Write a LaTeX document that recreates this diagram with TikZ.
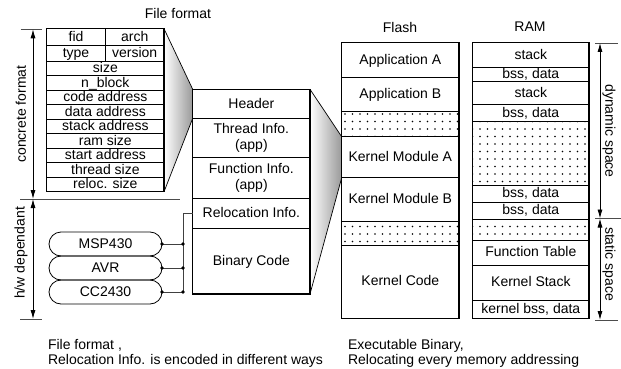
\documentclass[tikz,border=0pt]{standalone}
\usepackage{fontspec}
\setmainfont{Liberation Sans}
\usetikzlibrary{arrows.meta,%
                patterns.meta,%
                positioning}

\begin{document}
\begin{tikzpicture}
  [x=1pt,y=-1pt,
   every node/.style={font=\fontsize{14}{16.5}\selectfont,inner sep=0pt,outer sep=0pt},
   box/.style={draw,line width=.7pt,align=center},
   cell/.style={box,text height=8.5pt,text depth=0pt},
   half/.style={cell,minimum width=58.65,minimum height=16.3},
   tab/.style={cell,minimum width=117.3,minimum height=14.5},
   ramcell/.style={cell,minimum width=116.3},
   gapcell/.style={pattern={Dots[distance=7.5pt,radius=.85pt]},pattern color=black},
   pill/.style={draw,line width=.8pt,rounded corners=12,minimum width=113,minimum height=24,text height=8.5pt,text depth=0pt},
   dimarrow/.style={{Latex[length=9pt,width=5pt]}-{Latex[length=9pt,width=5pt]},line width=.8pt},
   tickline/.style={black!70,line width=.8pt},
   lead/.style={black!75,line width=.8pt},
   note/.style={anchor=north west,align=left,font=\fontsize{14}{15}\selectfont}]
  \useasboundingbox (0,0) rectangle (621,369);

  % titles
  \node (fftitle) at (178,13) {File format};
  \node (flashtitle) at (400,27) {Flash};
  \node (ramtitle) at (530,27) {RAM};

  % concrete file format
  \node[half,anchor=north west] (fid) at (46.7,28.7) {fid};
  \node[half,right=0pt of fid] (arch) {arch};
  \node[half,below=0pt of fid] (type) {type};
  \node[half,below=0pt of arch] (ver) {version};
  \node[tab,below=0pt of type.south east] (size) {size};
  \node[tab,below=0pt of size] (nblk) {n\_block};
  \node[tab,below=0pt of nblk] (code) {code address};
  \node[tab,below=0pt of code] (data) {data address};
  \node[tab,below=0pt of data] (stack) {stack address};
  \node[tab,below=0pt of stack] (ramsz) {ram size};
  \node[tab,below=0pt of ramsz] (start) {start address};
  \node[tab,below=0pt of start] (thsz) {thread size};
  \node[tab,below=0pt of thsz] (rsize) {reloc. size};

  % file layout
  \node[tab,minimum height=29,anchor=north west] (hdr) at (192.7,89.3) {Header};
  \node[box,minimum width=117.3,minimum height=39,below=0pt of hdr] (thr) {Thread Info.\\(app)};
  \node[box,minimum width=117.3,minimum height=41,below=0pt of thr] (fun) {Function Info.\\(app)};
  \node[tab,minimum height=30,below=0pt of fun] (rel) {Relocation Info.};
  \node[tab,minimum height=65.7,below=0pt of rel] (bin) {Binary Code};

  % flash
  \node[tab,minimum height=34.5,anchor=north west] (appa) at (341.7,42.7) {Application A};
  \node[tab,minimum height=34,below=0pt of appa] (appb) {Application B};
  \node[tab,gapcell,minimum height=25.5,below=0pt of appb] (fgap1) {};
  \node[tab,minimum height=41,below=0pt of fgap1] (kma) {Kernel Module A};
  \node[tab,minimum height=44,below=0pt of kma] (kmb) {Kernel Module B};
  \node[tab,gapcell,minimum height=23.3,below=0pt of kmb] (fgap2) {};
  \node[tab,minimum height=73.3,below=0pt of fgap2] (kcode) {Kernel Code};

  % ram
  \node[ramcell,minimum height=25,anchor=north west] (stk1) at (472.7,42.7) {stack};
  \node[ramcell,minimum height=14,below=0pt of stk1] (bss1) {bss, data};
  \node[ramcell,minimum height=23,below=0pt of bss1] (stk2) {stack};
  \node[ramcell,minimum height=16.3,below=0pt of stk2] (bss2) {bss, data};
  \node[ramcell,gapcell,minimum height=64,below=0pt of bss2] (rgap1) {};
  \node[ramcell,minimum height=17.3,below=0pt of rgap1] (bss3) {bss, data};
  \node[ramcell,minimum height=16.7,below=0pt of bss3] (bss4) {bss, data};
  \node[ramcell,gapcell,minimum height=21,below=0pt of bss4] (rgap2) {};
  \node[ramcell,minimum height=25,below=0pt of rgap2] (ftab) {Function Table};
  \node[ramcell,minimum height=35,below=0pt of ftab] (kstk) {Kernel Stack};
  \node[ramcell,minimum height=18.3,below=0pt of kstk] (kbss) {kernel bss, data};

  % funnels
  \shade[left color=white,right color=black!40] (arch.north east) -- (hdr.north west) -- (hdr.south west) -- (rsize.south east) -- cycle;
  \draw[line width=.7pt] (arch.north east) -- (hdr.north west) (rsize.south east) -- (hdr.south west);
  \shade[left color=white,right color=black!40] (hdr.north east) -- (kma.north west) -- (kmb.north west) -- (bin.south east) -- cycle;
  \draw[line width=.7pt] (hdr.north east) -- (kma.north west) (bin.south east) -- (kmb.north west);

  \draw[line width=1.3pt] (fid.north west) rectangle (rsize.south east);
  \draw[line width=1.3pt] (hdr.north west) rectangle (bin.south east);
  \draw[line width=1.3pt] (appa.north west) rectangle (kcode.south east);
  \draw[line width=1.3pt] (stk1.north west) rectangle (kbss.south east);

  % h/w targets
  \node[pill] (msp) at (105.5,244) {MSP430};
  \node[pill] (avr) at (105.5,268) {AVR};
  \node[pill] (cc) at (105.5,292) {CC2430};
  \coordinate (bus1) at (183,244);
  \coordinate (bus2) at (183,268);
  \coordinate (bus3) at (183,292);
  \foreach \from/\to in {msp/bus1,avr/bus2,cc/bus3}
    \draw[lead] (\from.east) -- (\to);
  \draw[lead] (bus3) |- (rel.west);
  \foreach \p in {msp.east,avr.east,cc.east,bus1,bus2,bus3}
    \fill (\p) circle[radius=1.8pt];

  % dimension lines
  \coordinate (cfa) at (33,29.3);
  \coordinate (cfb) at (33,199);
  \coordinate (hwb) at (33,319);
  \draw[tickline] (20.7,29.3) -- (41.7,29.3);
  \draw[tickline] (20,199) -- (180,199);
  \draw[tickline] (20,319) -- (42,319);
  \draw[dimarrow] (cfa) -- (cfb);
  \draw[dimarrow] (cfb) -- (hwb);
  \node[rotate=90] (cflabel) at (21,114) {concrete format};
  \node[rotate=90] (hwlabel) at (21,253) {h/w dependant};

  \coordinate (dsa) at (600,43);
  \coordinate (dsb) at (600,218.5);
  \coordinate (ssb) at (600,320);
  \draw[tickline] (595,43) -- (618,43);
  \draw[tickline] (595,218.5) -- (621,218.5);
  \draw[tickline] (595,320) -- (618,320);
  \draw[dimarrow] (dsa) -- (dsb);
  \draw[dimarrow] (dsb) -- (ssb);
  \node[rotate=-90] (dslabel) at (609,131) {dynamic space};
  \node[rotate=-90] (sslabel) at (609,264) {static space};

  % notes
  \node[note] (ffnote) at (48,339.8) {File format ,\\Relocation Info. is encoded in different ways};
  \node[note] (exnote) at (348,339.8) {Executable Binary,\\Relocating every memory addressing};
\end{tikzpicture}
\end{document}
